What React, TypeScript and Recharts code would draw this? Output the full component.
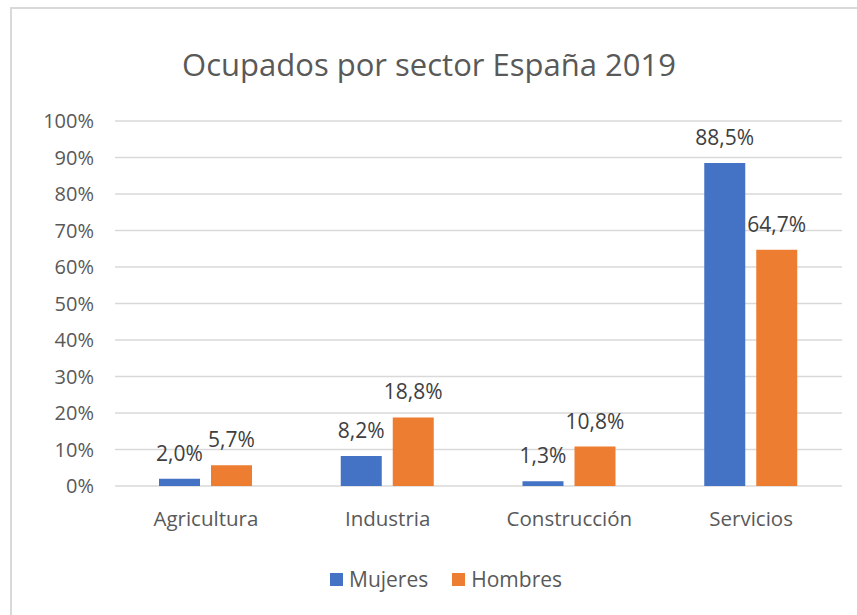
import React from "react";
import {
  Bar,
  BarChart,
  CartesianGrid,
  LabelList,
  XAxis,
  YAxis,
} from "recharts";

// Colores tipo Office
const C = {
  mujeres: "#4472C4",
  hombres: "#ED7D31",
  grid: "#D9D9D9",
  tick: "#595959",
  label: "#404040",
};

const FONT = "'Open Sans', 'Noto Sans', sans-serif";

const sectores = ["Agricultura", "Industria", "Construcción", "Servicios"];
const mujeres = [2.0, 8.2, 1.3, 88.5];
const hombres = [5.7, 18.8, 10.8, 64.7];
const yTicks = [0, 10, 20, 30, 40, 50, 60, 70, 80, 90, 100];

const series = [
  { key: "mujeres", name: "Mujeres", color: C.mujeres },
  { key: "hombres", name: "Hombres", color: C.hombres },
];

const data = sectores.map((sector, i) => ({
  sector,
  mujeres: mujeres[i],
  hombres: hombres[i],
}));

const pct = (v: number) => `${v.toFixed(1).replace(".", ",")}%`;

export default function App() {
  return (
    <div
      style={{
        position: "absolute",
        left: 0,
        top: 0,
        width: 857,
        height: 615,
        background: "#fff",
        overflow: "hidden",
        fontFamily: FONT,
      }}
    >
      {/* marco del gráfico */}
      <div
        style={{
          position: "absolute",
          left: 10,
          top: 7,
          width: 847,
          height: 608,
          borderLeft: `2px solid ${C.grid}`,
          borderTop: `2px solid ${C.grid}`,
          boxSizing: "border-box",
        }}
      />
      <div
        style={{
          position: "absolute",
          left: 10,
          width: 838,
          top: 44,
          textAlign: "center",
          fontSize: 31,
          color: C.tick,
          lineHeight: "40px",
        }}
      >
        Ocupados por sector España 2019
      </div>
      <BarChart
        width={857}
        height={615}
        data={data}
        margin={{ top: 121, right: 15, bottom: 89, left: 0 }}
        barSize={41}
        barGap={11}
        style={{ position: "absolute", left: 0, top: 0 }}
      >
        <CartesianGrid vertical={false} stroke={C.grid} strokeWidth={1.5} />
        <XAxis
          dataKey="sector"
          axisLine={false}
          tickLine={false}
          height={40}
          tickMargin={19}
          tick={{ fontSize: 20.5, fill: C.tick, fontFamily: FONT }}
        />
        <YAxis
          width={115}
          domain={[0, 100]}
          ticks={yTicks}
          interval={0}
          axisLine={false}
          tickLine={false}
          tickMargin={15}
          tickFormatter={(v: number) => `${v}%`}
          tick={{ fontSize: 20, fill: C.tick, fontFamily: FONT }}
        />
        {series.map((s) => (
          <Bar
            key={s.key}
            dataKey={s.key}
            name={s.name}
            fill={s.color}
            isAnimationActive={false}
          >
            <LabelList
              dataKey={s.key}
              position="top"
              offset={18}
              formatter={(v: number) => pct(v)}
              style={{ fontSize: 21, fill: C.label, fontFamily: FONT }}
            />
          </Bar>
        ))}
      </BarChart>
      {/* leyenda */}
      <div
        style={{
          position: "absolute",
          left: 330,
          top: 566,
          display: "flex",
          alignItems: "center",
          fontSize: 21,
          color: C.tick,
          lineHeight: "26px",
        }}
      >
        {series.map((s, i) => (
          <div
            key={s.key}
            style={{
              display: "flex",
              alignItems: "center",
              marginRight: i === 0 ? 24 : 0,
            }}
          >
            <span
              style={{
                display: "inline-block",
                width: 13,
                height: 13,
                background: s.color,
                marginRight: 6,
              }}
            />
            {s.name}
          </div>
        ))}
      </div>
    </div>
  );
}
